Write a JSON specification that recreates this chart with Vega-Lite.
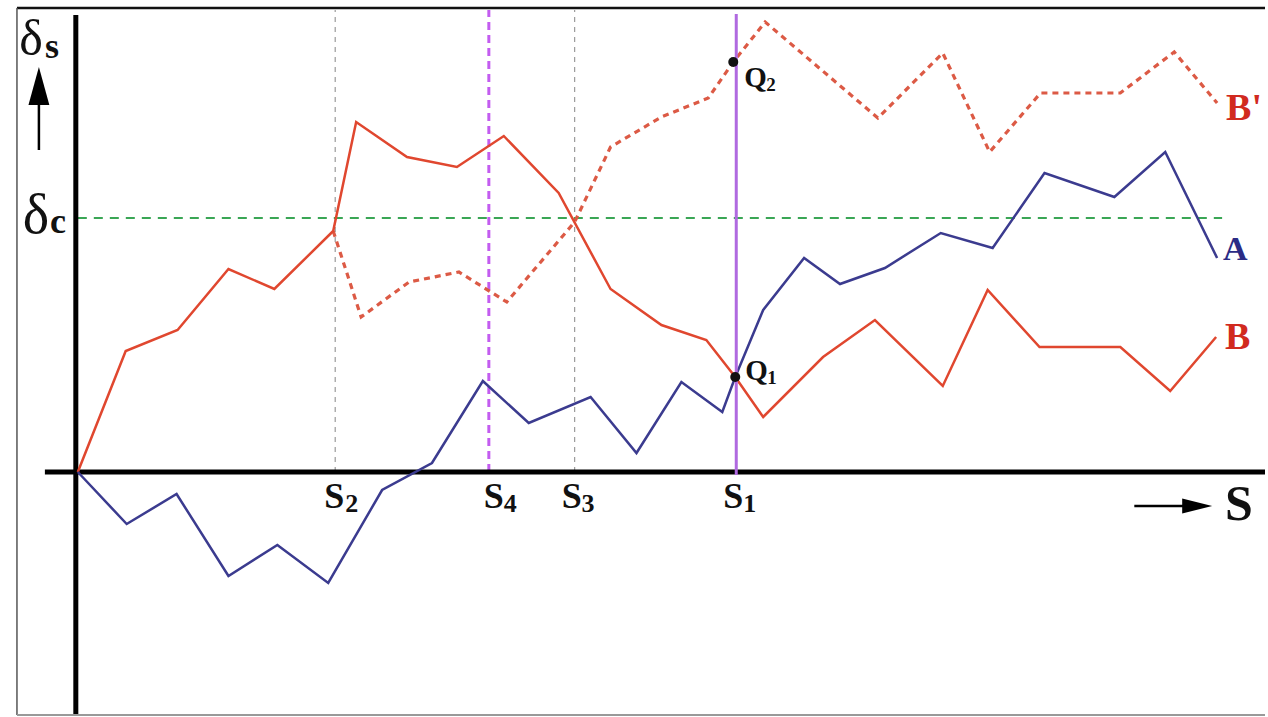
{
  "$schema": "https://vega.github.io/schema/vega-lite/v6.json",
  "width": 1268,
  "height": 717,
  "autosize": {"type": "fit", "contains": "padding"},
  "padding": 0,
  "background": "white",
  "config": {"view": {"stroke": null}},
  "encoding": {
    "x": {"field": "x", "type": "quantitative", "scale": {"domain": [-78, 1190], "nice": false, "zero": false}, "axis": null},
    "y": {"field": "y", "type": "quantitative", "scale": {"domain": [-245, 472], "nice": false, "zero": false}, "axis": null}
  },
  "layer": [
    {
      "data": {"values": [{"x": -61, "y": 464, "x2": 1190, "y2": 464}]},
      "mark": {"type": "rule", "color": "#111111", "strokeWidth": 2.5},
      "encoding": {"x2": {"field": "x2"}, "y2": {"field": "y2"}}
    },
    {
      "data": {"values": [{"x": -61, "y": 464, "x2": -61, "y2": -243}]},
      "mark": {"type": "rule", "color": "#555555", "strokeWidth": 1.5},
      "encoding": {"x2": {"field": "x2"}, "y2": {"field": "y2"}}
    },
    {
      "data": {"values": [{"x": -61, "y": -243, "x2": 1190, "y2": -243}]},
      "mark": {"type": "rule", "color": "#999999", "strokeWidth": 2},
      "encoding": {"x2": {"field": "x2"}, "y2": {"field": "y2"}}
    },
    {
      "data": {"values": [{"x": 258, "y": 0, "x2": 258, "y2": 462}, {"x": 498, "y": 0, "x2": 498, "y2": 462}]},
      "mark": {"type": "rule", "color": "#9a9a9a", "strokeWidth": 1.2, "strokeDash": [5, 5]},
      "encoding": {"x2": {"field": "x2"}, "y2": {"field": "y2"}}
    },
    {
      "data": {"values": [{"x": 0, "y": 254, "x2": 1147, "y2": 254}]},
      "mark": {"type": "rule", "color": "#3aa655", "strokeWidth": 2, "strokeDash": [9, 7]},
      "encoding": {"x2": {"field": "x2"}, "y2": {"field": "y2"}}
    },
    {
      "data": {"values": [{"x": 412, "y": 0, "x2": 412, "y2": 462}]},
      "mark": {"type": "rule", "color": "#c35cf0", "strokeWidth": 3, "strokeDash": [8, 5]},
      "encoding": {"x2": {"field": "x2"}, "y2": {"field": "y2"}}
    },
    {
      "data": {"values": [{"x": -33, "y": 0, "x2": 1190, "y2": 0}, {"x": -2, "y": 457, "x2": -2, "y2": -242}]},
      "mark": {"type": "rule", "color": "#000000", "strokeWidth": 5},
      "encoding": {"x2": {"field": "x2"}, "y2": {"field": "y2"}}
    },
    {
      "data": {"values": [
        {"x": 256, "y": 241}, {"x": 284, "y": 155}, {"x": 332, "y": 190}, {"x": 382, "y": 200},
        {"x": 430, "y": 170}, {"x": 498, "y": 250}, {"x": 534, "y": 325}, {"x": 585, "y": 355},
        {"x": 632, "y": 374}, {"x": 657, "y": 410}, {"x": 689, "y": 450}, {"x": 802, "y": 354},
        {"x": 867, "y": 419}, {"x": 914, "y": 320}, {"x": 965, "y": 379}, {"x": 1045, "y": 379},
        {"x": 1099, "y": 420}, {"x": 1142, "y": 369}
      ]},
      "mark": {"type": "line", "color": "#dc5a45", "strokeWidth": 3.2, "strokeDash": [6, 5]},
      "encoding": {}
    },
    {
      "data": {"values": [
        {"x": 0, "y": 0}, {"x": 48, "y": 121}, {"x": 100, "y": 142}, {"x": 151, "y": 203},
        {"x": 197, "y": 183}, {"x": 256, "y": 241}, {"x": 279, "y": 350}, {"x": 330, "y": 315},
        {"x": 380, "y": 305}, {"x": 427, "y": 336}, {"x": 482, "y": 279}, {"x": 534, "y": 183},
        {"x": 585, "y": 147}, {"x": 630, "y": 132}, {"x": 659, "y": 95}, {"x": 687, "y": 55},
        {"x": 747, "y": 115}, {"x": 799, "y": 152}, {"x": 867, "y": 86}, {"x": 912, "y": 182},
        {"x": 964, "y": 125}, {"x": 1045, "y": 125}, {"x": 1095, "y": 81}, {"x": 1141, "y": 135}
      ]},
      "mark": {"type": "line", "color": "#e0472f", "strokeWidth": 2.5},
      "encoding": {}
    },
    {
      "data": {"values": [
        {"x": 0, "y": 0}, {"x": 49, "y": -52}, {"x": 99, "y": -22}, {"x": 151, "y": -104},
        {"x": 200, "y": -73}, {"x": 251, "y": -111}, {"x": 305, "y": -18}, {"x": 355, "y": 9},
        {"x": 406, "y": 91}, {"x": 452, "y": 49}, {"x": 514, "y": 75}, {"x": 560, "y": 19},
        {"x": 605, "y": 90}, {"x": 646, "y": 60}, {"x": 659, "y": 95}, {"x": 687, "y": 162},
        {"x": 728, "y": 214}, {"x": 764, "y": 188}, {"x": 809, "y": 204}, {"x": 865, "y": 239},
        {"x": 917, "y": 224}, {"x": 969, "y": 299}, {"x": 1039, "y": 275}, {"x": 1090, "y": 320},
        {"x": 1142, "y": 214}
      ]},
      "mark": {"type": "line", "color": "#3b3b8f", "strokeWidth": 2.5},
      "encoding": {}
    },
    {
      "data": {"values": [{"x": 660, "y": -3, "x2": 660, "y2": 458}]},
      "mark": {"type": "rule", "color": "#b06ae0", "strokeWidth": 3},
      "encoding": {"x2": {"field": "x2"}, "y2": {"field": "y2"}}
    },
    {
      "data": {"values": [{"x": 657, "y": 410}, {"x": 659, "y": 95}]},
      "mark": {"type": "point", "filled": true, "color": "#111111", "size": 100, "opacity": 1, "shape": "circle"}
    },
    {
      "data": {"values": [{"x": 1059, "y": -34, "x2": 1112, "y2": -34}, {"x": -39, "y": 322, "x2": -39, "y2": 372}]},
      "mark": {"type": "rule", "color": "#000000", "strokeWidth": 2.5},
      "encoding": {"x2": {"field": "x2"}, "y2": {"field": "y2"}}
    },
    {
      "data": {"values": [{"x": 1122, "y": -34}]},
      "mark": {"type": "point", "filled": true, "color": "#000000", "opacity": 1, "size": 900, "shape": "M1,0L-1,-0.5L-1,0.5Z"}
    },
    {
      "data": {"values": [{"x": -39, "y": 386}]},
      "mark": {"type": "point", "filled": true, "color": "#000000", "opacity": 1, "size": 1444, "shape": "M0,-1L0.55,1L-0.55,1Z"}
    },
    {
      "data": {"values": [{"x": -47, "y": 417, "t": "δ"}]},
      "mark": {"type": "text", "font": "Liberation Serif, Times New Roman, serif", "fontSize": 50, "align": "center", "baseline": "alphabetic", "color": "#111111"},
      "encoding": {"text": {"field": "t"}}
    },
    {
      "data": {"values": [{"x": -42, "y": 239, "t": "δ"}]},
      "mark": {"type": "text", "font": "Liberation Serif, Times New Roman, serif", "fontSize": 56, "align": "center", "baseline": "alphabetic", "color": "#111111"},
      "encoding": {"text": {"field": "t"}}
    },
    {
      "data": {"values": [{"x": -33, "y": 414, "t": "s"}, {"x": -28, "y": 239, "t": "c"}]},
      "mark": {"type": "text", "font": "Liberation Serif, Times New Roman, serif", "fontSize": 36, "fontWeight": "bold", "align": "left", "baseline": "alphabetic", "color": "#111111"},
      "encoding": {"text": {"field": "t"}}
    },
    {
      "data": {"values": [{"x": 257, "y": -36, "t": "S"}, {"x": 417, "y": -36, "t": "S"}, {"x": 495, "y": -36, "t": "S"}, {"x": 657, "y": -36, "t": "S"}]},
      "mark": {"type": "text", "font": "Liberation Serif, Times New Roman, serif", "fontSize": 36, "fontWeight": "bold", "align": "center", "baseline": "alphabetic", "color": "#111111"},
      "encoding": {"text": {"field": "t"}}
    },
    {
      "data": {"values": [{"x": 268, "y": -40, "t": "2"}, {"x": 427, "y": -40, "t": "4"}, {"x": 505, "y": -40, "t": "3"}, {"x": 667, "y": -40, "t": "1"}]},
      "mark": {"type": "text", "font": "Liberation Serif, Times New Roman, serif", "fontSize": 26, "fontWeight": "bold", "align": "left", "baseline": "alphabetic", "color": "#111111"},
      "encoding": {"text": {"field": "t"}}
    },
    {
      "data": {"values": [{"x": 668, "y": 385, "t": "Q"}, {"x": 669, "y": 92, "t": "Q"}]},
      "mark": {"type": "text", "font": "Liberation Serif, Times New Roman, serif", "fontSize": 29, "fontWeight": "bold", "align": "left", "baseline": "alphabetic", "color": "#111111"},
      "encoding": {"text": {"field": "t"}}
    },
    {
      "data": {"values": [{"x": 690, "y": 381, "t": "2"}, {"x": 691, "y": 88, "t": "1"}]},
      "mark": {"type": "text", "font": "Liberation Serif, Times New Roman, serif", "fontSize": 19, "fontWeight": "bold", "align": "left", "baseline": "alphabetic", "color": "#111111"},
      "encoding": {"text": {"field": "t"}}
    },
    {
      "data": {"values": [{"x": 1151, "y": 352, "t": "B'"}, {"x": 1150, "y": 123, "t": "B"}]},
      "mark": {"type": "text", "font": "Liberation Serif, Times New Roman, serif", "fontSize": 38, "fontWeight": "bold", "align": "left", "baseline": "alphabetic", "color": "#d12a1f"},
      "encoding": {"text": {"field": "t"}}
    },
    {
      "data": {"values": [{"x": 1148, "y": 212, "t": "A"}]},
      "mark": {"type": "text", "font": "Liberation Serif, Times New Roman, serif", "fontSize": 34, "fontWeight": "bold", "align": "left", "baseline": "alphabetic", "color": "#2b2b85"},
      "encoding": {"text": {"field": "t"}}
    },
    {
      "data": {"values": [{"x": 1150, "y": -48, "t": "S"}]},
      "mark": {"type": "text", "font": "Liberation Serif, Times New Roman, serif", "fontSize": 50, "fontWeight": "bold", "align": "left", "baseline": "alphabetic", "color": "#111111"},
      "encoding": {"text": {"field": "t"}}
    }
  ]
}
